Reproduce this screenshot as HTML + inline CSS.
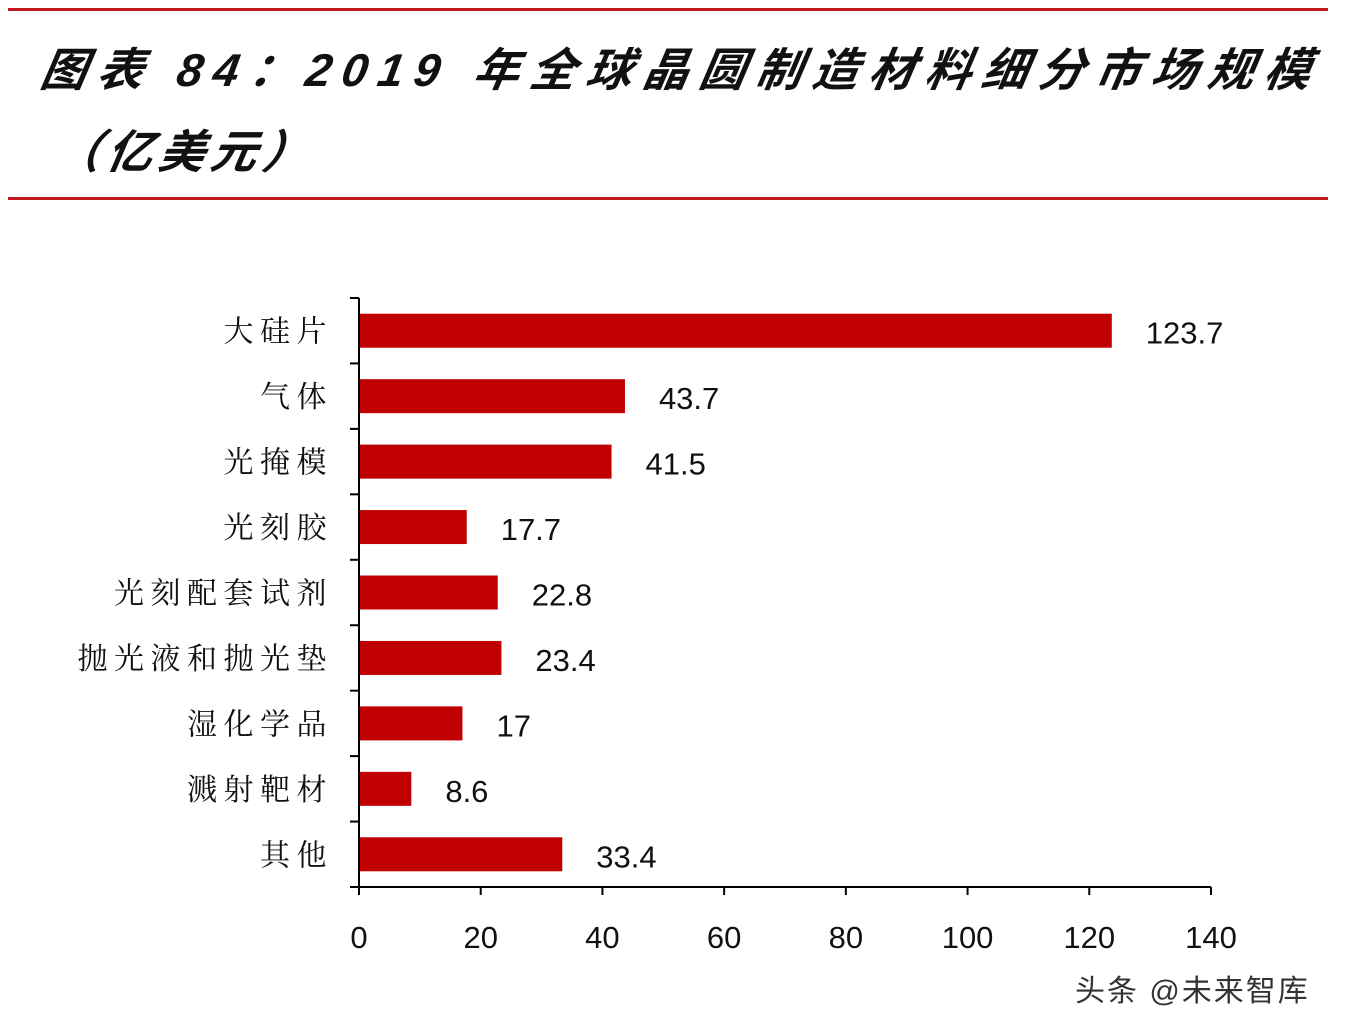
<!DOCTYPE html>
<html><head><meta charset="utf-8"><style>
body{margin:0;background:#fff;width:1352px;height:1032px;overflow:hidden;position:relative;font-family:"Liberation Sans","Noto Sans CJK SC",sans-serif}
.line{position:absolute;left:8px;width:1320px;height:3px;background:#c0161e}
.title{position:absolute;left:42px;font-family:"Liberation Sans","Noto Sans CJK SC",sans-serif;font-weight:bold;font-style:italic;font-size:46px;color:#111;white-space:nowrap;transform:skewX(-10deg)}
</style></head><body>
<div class="line" style="top:8px"></div>
<div class="title" style="top:34px;letter-spacing:10.5px">图表 84：2019 年全球晶圆制造材料细分市场规模</div>
<div class="title" style="top:116px;left:56px;letter-spacing:6px">（亿美元）</div>
<div class="line" style="top:197px"></div>
<svg id="chart" width="1352" height="1032" style="position:absolute;left:0;top:0"></svg>
<div style="position:absolute;left:1075px;top:966px;font-size:30px;letter-spacing:2px;color:#333;font-family:'Liberation Sans','Noto Sans CJK SC',sans-serif">头条 @未来智库</div>
<script>
const categories=["大硅片","气体","光掩模","光刻胶","光刻配套试剂","抛光液和抛光垫","湿化学品","溅射靶材","其他"];
const values=[123.7,43.7,41.5,17.7,22.8,23.4,17,8.6,33.4];
const valueLabels=["123.7","43.7","41.5","17.7","22.8","23.4","17","8.6","33.4"];
const xTicks=[0,20,40,60,80,100,120,140];
const svg=document.getElementById('chart');const NS='http://www.w3.org/2000/svg';
const x0=359,x1=1211,xMax=140,yTop=298,yBot=887;
const band=(yBot-yTop)/categories.length;
function xs(v){return x0+(v/xMax)*(x1-x0);}
function yc(i){return yTop+band*(i+0.5);}
function mk(t,a){const e=document.createElementNS(NS,t);for(const k in a)e.setAttribute(k,a[k]);svg.appendChild(e);return e;}
categories.forEach((c,i)=>{
 const r=mk('rect',{x:x0,y:yc(i)-17,width:xs(values[i])-x0,height:34,fill:'#c00000'});
 
 
 const t=mk('text',{x:333,y:yc(i)+11,'text-anchor':'end','font-size':30,'letter-spacing':6.5,fill:'#111','font-family':'"Liberation Serif","Noto Serif CJK SC",serif'});t.textContent=c;
 
 
 const v=mk('text',{x:xs(values[i])+34,y:yc(i)+13,'font-size':31,fill:'#111','font-family':'"Liberation Sans",sans-serif'});v.textContent=valueLabels[i];
 
 
});
const ya=mk('line',{x1:x0,y1:yTop,x2:x0,y2:yBot,stroke:'#000','stroke-width':2});


for(let i=0;i<=categories.length;i++){const y=yTop+band*i;mk('line',{x1:350,y1:y,x2:x0,y2:y,stroke:'#000','stroke-width':2});}
const xa=mk('line',{x1:x0,y1:yBot,x2:x1,y2:yBot,stroke:'#000','stroke-width':2});


xTicks.forEach(t=>{const x=xs(t);mk('line',{x1:x,y1:yBot,x2:x,y2:yBot+8,stroke:'#000','stroke-width':2});
 const l=mk('text',{x:x,y:948,'text-anchor':'middle','font-size':31,fill:'#111','font-family':'"Liberation Sans",sans-serif'});l.textContent=t;
 
 
});
</script>
</body></html>
